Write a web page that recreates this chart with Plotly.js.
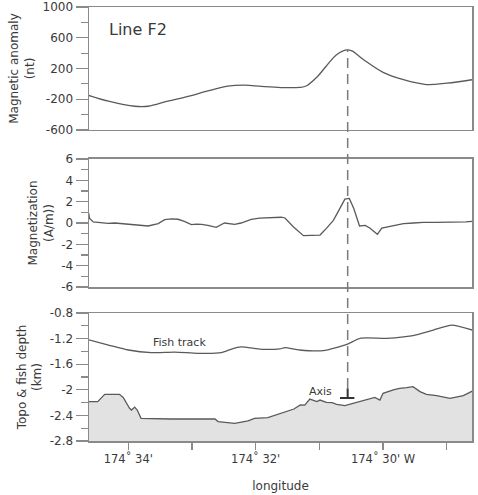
<!DOCTYPE html>
<html>
<head>
<meta charset="utf-8">
<script src="https://cdn.plot.ly/plotly-3.0.1.min.js"></script>
<style>
  html, body { margin: 0; padding: 0; background: #fff; }
  #chart { width: 478px; height: 495px; }
</style>
</head>
<body>
<div id="chart"></div>
<script>
// Longitude is given in arc-minutes west of 174° W.

// Magnetic anomaly (nT)
const anomalyLon = [34.62, 34.31, 33.90, 33.69, 33.38, 33.06, 32.75, 32.44, 32.17, 31.91,
                    31.60, 31.31, 31.20, 31.04, 30.89, 30.73, 30.57, 30.49, 30.31, 30.00,
                    29.68, 29.32, 29.00, 28.60];
const anomalyNT  = [-150, -225, -291, -291, -225, -162, -91, -29, -16, -33,
                    -48, -46, -25, 87, 233, 379, 442, 429, 317, 150,
                    54, -9, 9, 54];

// Magnetization (A/m)
const magLon = [34.62, 34.61, 34.55, 34.43, 34.32, 34.21, 34.11, 33.95, 33.82, 33.69,
                33.53, 33.43, 33.32, 33.22, 33.12, 33.01, 32.93, 32.85, 32.75, 32.62,
                32.49, 32.41, 32.33, 32.23, 32.07, 31.94, 31.81, 31.60, 31.54, 31.41,
                31.25, 31.12, 30.99, 30.89, 30.78, 30.68, 30.60, 30.53, 30.46, 30.37,
                30.28, 30.21, 30.09, 30.02, 29.89, 29.78, 29.68, 29.52, 29.37, 29.18,
                29.00, 28.82, 28.70, 28.60];
const magAm  = [0.90, 0.44, 0.10, 0.02, -0.03, 0.00, -0.06, -0.15, -0.20, -0.28,
                -0.06, 0.32, 0.38, 0.35, 0.16, -0.15, -0.10, -0.12, -0.22, -0.40,
                0.00, -0.05, -0.12, 0.00, 0.35, 0.45, 0.50, 0.54, 0.47, -0.35,
                -1.19, -1.13, -1.13, -0.50, 0.25, 1.35, 2.24, 2.30, 1.35, -0.28,
                -0.22, -0.47, -1.06, -0.47, -0.31, -0.18, -0.06, 0.00, 0.06, 0.05,
                0.06, 0.08, 0.10, 0.16];

// Towed fish depth (km)
const fishLon = [34.62, 34.31, 34.00, 33.64, 33.27, 32.91, 32.54, 32.38, 32.23, 31.91,
                 31.62, 31.54, 31.31, 30.94, 30.57, 30.36, 29.94, 29.53, 29.21, 28.92,
                 28.60];
const fishKm  = [-1.22, -1.30, -1.378, -1.42, -1.41, -1.43, -1.42, -1.363, -1.33, -1.367,
                 -1.36, -1.34, -1.378, -1.388, -1.29, -1.195, -1.195, -1.153, -1.066, -0.99,
                 -1.066];

// Seafloor topography (km)
const topoLon = [34.62, 34.48, 34.37, 34.14, 34.08, 33.98, 33.95, 33.90, 33.86, 33.80,
                 33.33, 32.64, 32.59, 32.33, 32.12, 32.02, 31.81, 31.60, 31.51, 31.40,
                 31.30, 31.23, 31.15, 31.04, 30.99, 30.89, 30.80, 30.73, 30.60, 30.47,
                 30.26, 30.13, 30.05, 30.00, 29.84, 29.74, 29.63, 29.53, 29.42, 29.32,
                 29.16, 28.95, 28.74, 28.60];
const topoKm  = [-2.184, -2.184, -2.07, -2.07, -2.12, -2.29, -2.316, -2.27, -2.316, -2.445,
                 -2.456, -2.456, -2.497, -2.523, -2.487, -2.445, -2.434, -2.367, -2.34, -2.30,
                 -2.237, -2.24, -2.144, -2.184, -2.16, -2.195, -2.20, -2.227, -2.247, -2.21,
                 -2.16, -2.12, -2.16, -2.055, -2.003, -1.977, -1.966, -1.95, -2.028, -2.07,
                 -2.09, -2.133, -2.09, -2.02];

// Spreading-axis position and depth bottom
const axisLon = 30.556;
const lonRange = [34.617, 28.604];
const depthFloor = -2.8;

// Tick labels
const anomalyTicks = [-600, -200, 200, 600, 1000];
const anomalyTickText = ['-600', '-200', '200', '600', '1000'];
const magTicks = [-6, -4, -2, 0, 2, 4, 6];
const magTickText = ['-6', '-4', '-2', '0', '2', '4', '6'];
const depthTicks = [-2.8, -2.4, -2, -1.6, -1.2, -0.8];
const depthTickText = ['-2.8', '-2.4', '-2', '-1.6', '-1.2', '-0.8'];
const lonTicks = [34, 33, 32, 31, 30, 29];
const lonTickText = ["174\u02DA 34'", '', "174\u02DA 32'", '', "174\u02DA 30' W", ''];

const FONT = 'DejaVu Sans, Arial, sans-serif';
const INK = '#3a3a3a';
const CURVE = '#5a5a5a';
const FRAME = '#8a8a8a';

const traces = [
  { x: anomalyLon, y: anomalyNT, xaxis: 'x', yaxis: 'y', mode: 'lines',
    line: { color: CURVE, width: 1.3, shape: 'spline', smoothing: 1 }, hoverinfo: 'skip' },
  { x: magLon, y: magAm, xaxis: 'x2', yaxis: 'y2', mode: 'lines',
    line: { color: CURVE, width: 1.3 }, hoverinfo: 'skip' },
  { x: fishLon, y: fishKm, xaxis: 'x3', yaxis: 'y3', mode: 'lines',
    line: { color: CURVE, width: 1.3, shape: 'spline', smoothing: 0.6 }, hoverinfo: 'skip' },
  { x: lonRange, y: lonRange.map(() => depthFloor), xaxis: 'x3', yaxis: 'y3', mode: 'lines',
    line: { width: 0, color: 'rgba(0,0,0,0)' }, hoverinfo: 'skip' },
  { x: topoLon, y: topoKm, xaxis: 'x3', yaxis: 'y3', mode: 'lines', fill: 'tonexty',
    fillcolor: '#e2e2e2', line: { color: CURVE, width: 1.3 }, hoverinfo: 'skip' }
];

function xAxis(anchor, showTicks) {
  return {
    anchor: anchor, domain: [0, 1], range: lonRange, autorange: false,
    showline: true, mirror: true, linecolor: FRAME, linewidth: 1.5,
    showgrid: false, zeroline: false,
    tickmode: 'array', tickvals: showTicks ? lonTicks : [],
    ticktext: showTicks ? lonTickText : [],
    ticks: showTicks ? 'outside' : '', ticklen: 7, tickwidth: 1.2, tickcolor: FRAME,
    showticklabels: showTicks,
    tickfont: { family: FONT, size: 11.5, color: INK }
  };
}

function yAxis(anchor, domain, range, vals, text, minorStep, title) {
  return {
    anchor: anchor, domain: domain, range: range, autorange: false,
    showline: true, mirror: true, linecolor: FRAME, linewidth: 1.5,
    showgrid: false, zeroline: false,
    tickmode: 'array', tickvals: vals, ticktext: text,
    ticks: 'outside', ticklen: 12, tickwidth: 1.2, tickcolor: FRAME,
    ticklabeloverflow: 'allow',
    minor: { dtick: minorStep, ticks: 'outside', ticklen: 7, tickwidth: 1.2, tickcolor: FRAME, showgrid: false },
    tickfont: { family: FONT, size: 12, color: INK },
    title: { text: title, font: { family: FONT, size: 12, color: INK }, standoff: 5 }
  };
}

const layout = {
  width: 478, height: 495,
  margin: { l: 89, r: 6, t: 7, b: 54 },
  paper_bgcolor: '#fff', plot_bgcolor: '#fff',
  showlegend: false,
  xaxis: xAxis('y', false),
  xaxis2: xAxis('y2', false),
  xaxis3: Object.assign(xAxis('y3', true), {
    title: { text: 'longitude', font: { family: FONT, size: 12, color: INK }, standoff: 16 }
  }),
  yaxis: yAxis('x', [0.7166, 1], [-600, 1000], anomalyTicks, anomalyTickText, 200,
               'Magnetic anomaly<br>(nt)'),
  yaxis2: yAxis('x2', [0.3548, 0.6498], [-6, 6], magTicks, magTickText, 1,
                'Magnetization<br>(A/m))'),
  yaxis3: yAxis('x3', [0, 0.2949], [-2.8, -0.8], depthTicks, depthTickText, 0.2,
                'Topo &amp; fish depth<br>(km)'),
  shapes: [
    // dashed line marking the axis through all three panels
    { type: 'line', xref: 'x', yref: 'paper', x0: axisLon, x1: axisLon, y0: 0.1221, y1: 0.901,
      line: { color: '#7a7a7a', width: 1.5, dash: '10px,6px' }, layer: 'above' },
    // axis symbol
    { type: 'line', xref: 'x3', yref: 'y3', x0: axisLon, x1: axisLon, y0: -1.977, y1: -2.128,
      line: { color: '#333', width: 2 } },
    { type: 'line', xref: 'x3', yref: 'y3', x0: axisLon + 0.12, x1: axisLon - 0.105, y0: -2.128, y1: -2.128,
      line: { color: '#333', width: 2 } }
  ],
  annotations: [
    { xref: 'x', yref: 'y', x: 34.33, y: 712, text: 'Line F2', showarrow: false,
      xanchor: 'left', yanchor: 'middle', font: { family: FONT, size: 16, color: INK } },
    { xref: 'x3', yref: 'y3', x: 33.648, y: -1.258, text: 'Fish track', showarrow: false,
      xanchor: 'left', yanchor: 'middle', font: { family: FONT, size: 11, color: INK } },
    { xref: 'x3', yref: 'y3', x: 30.771, y: -2.028, text: 'Axis', showarrow: false,
      xanchor: 'right', yanchor: 'middle', font: { family: FONT, size: 11, color: INK } }
  ]
};

Plotly.newPlot('chart', traces, layout, { staticPlot: true, displayModeBar: false });
</script>
</body>
</html>
